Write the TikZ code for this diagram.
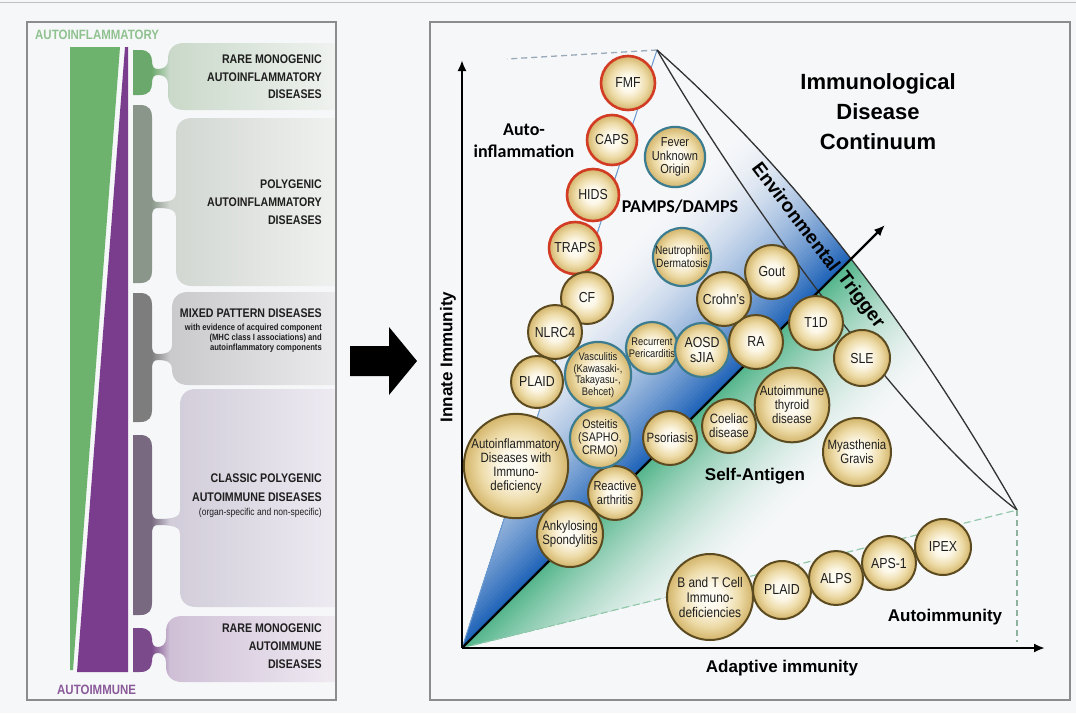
\documentclass[tikz,border=0pt]{standalone}
\usepackage{fontspec}
\setmainfont{Liberation Sans}
\newfontfamily\cond[FakeStretch=0.85]{Liberation Sans}
\newfontfamily\cali{Carlito}
\usetikzlibrary{arrows.meta}

\definecolor{bgc}{HTML}{F6F7F9}
\definecolor{frm}{HTML}{8C8C8C}
\definecolor{blueB}{HTML}{1F63B8}
\definecolor{greenB}{HTML}{55B68C}
\definecolor{rimbrown}{HTML}{5C4B20}
\definecolor{rimred}{HTML}{D23B24}
\definecolor{rimteal}{HTML}{3C7C90}
\definecolor{txtdark}{HTML}{1E1E1E}
\definecolor{hdgreen}{HTML}{8FC28F}
\definecolor{hdpurple}{HTML}{8A5A9A}
\definecolor{wedgegreen}{HTML}{6DB36D}
\definecolor{wedgepurple}{HTML}{7A3C8C}
\definecolor{edgeblue}{HTML}{6A9AD0}
\definecolor{dashgreen}{HTML}{93C9AB}
\definecolor{dashgray}{HTML}{9AA9B8}

% branch fills: dark stem on the left, pale lobe fading to the right
\pgfdeclarehorizontalshading{lobeA}{100bp}{rgb(0bp)=(0.42,0.66,0.42); rgb(29.5bp)=(0.42,0.66,0.42); rgb(34bp)=(0.79,0.85,0.79); rgb(75bp)=(0.94,0.95,0.94); rgb(100bp)=(0.94,0.95,0.94)}
\pgfdeclarehorizontalshading{lobeB}{100bp}{rgb(0bp)=(0.54,0.59,0.54); rgb(29.5bp)=(0.54,0.59,0.54); rgb(34bp)=(0.82,0.84,0.82); rgb(75bp)=(0.94,0.945,0.94); rgb(100bp)=(0.94,0.945,0.94)}
\pgfdeclarehorizontalshading{lobeC}{100bp}{rgb(0bp)=(0.49,0.49,0.49); rgb(29.5bp)=(0.49,0.49,0.49); rgb(34bp)=(0.79,0.79,0.80); rgb(75bp)=(0.92,0.92,0.93); rgb(100bp)=(0.92,0.92,0.93)}
\pgfdeclarehorizontalshading{lobeD}{100bp}{rgb(0bp)=(0.47,0.41,0.50); rgb(29.5bp)=(0.47,0.41,0.50); rgb(34bp)=(0.82,0.80,0.85); rgb(75bp)=(0.93,0.92,0.95); rgb(100bp)=(0.93,0.92,0.95)}
\pgfdeclarehorizontalshading{lobeE}{100bp}{rgb(0bp)=(0.48,0.29,0.54); rgb(29.5bp)=(0.48,0.29,0.54); rgb(34bp)=(0.81,0.75,0.84); rgb(75bp)=(0.94,0.92,0.95); rgb(100bp)=(0.94,0.92,0.95)}
% disease bubbles
\pgfdeclareradialshading{ball}{\pgfpointorigin}{rgb(0bp)=(1,1,0.98); rgb(8bp)=(0.99,0.97,0.91); rgb(17bp)=(0.93,0.86,0.66); rgb(25bp)=(0.83,0.71,0.42); rgb(50bp)=(0.83,0.71,0.42)}

% one branch: #1 bar top, #2 bar bottom, #3 neck, #4 lobe top, #5 lobe bottom, #6 lobe left, #7 shading
\newcommand{\lobe}[7]{%
  \shade[shading=#7] (133,#1) -- (140,#1) .. controls (150,#1) and (152,{#1+6}) .. (152,{#1+12})
    -- (152,{#3-12}) .. controls (152,{#3-5}) and (154,{#3-3}) .. (158,{#3-3})
    .. controls ({#6-4},{#3-3}) and (#6,{#3-6}) .. (#6,{#3-12})
    -- (#6,{#4+16}) .. controls (#6,{#4+6}) and ({#6+6},#4) .. ({#6+16},#4)
    -- (336,#4) -- (336,#5) -- ({#6+16},#5) .. controls ({#6+6},#5) and (#6,{#5-6}) .. (#6,{#5-16})
    -- (#6,{#3+12}) .. controls (#6,{#3+6}) and ({#6-4},{#3+3}) .. (158,{#3+3})
    .. controls (154,{#3+3}) and (152,{#3+5}) .. (152,{#3+12})
    -- (152,{#2-12}) .. controls (152,{#2-6}) and (150,#2) .. (140,#2) -- (133,#2) -- cycle;}

\tikzset{
  dz/.style={circle, shade, shading=ball, draw=rimbrown, line width=2pt, minimum size=#1,
    inner sep=0pt, align=center, text=txtdark},
  rd/.style={draw=rimred, line width=2.6pt},
  tl/.style={draw=rimteal, line width=2.2pt},
  fA/.style={font=\cond\fontsize{14.5}{15}\selectfont},
  fB/.style={font=\cond\fontsize{13.5}{14}\selectfont},
  fC/.style={font=\cond\fontsize{11}{11.5}\selectfont},
  cap/.style={font=\cond\bfseries\fontsize{12.5}{#1}\selectfont, text=txtdark, align=right, anchor=east, inner sep=0pt},
  note/.style={font=\bfseries\fontsize{17}{20}\selectfont, inner sep=0pt},
  bandtext/.style={font=\bfseries\fontsize{19}{21}\selectfont, rotate=-52.7, inner sep=0pt},
  axis/.style={line width=2.4pt, -{Latex[length=11pt,width=9pt]}},
}

\begin{document}
\begin{tikzpicture}[x=1pt, y=-1pt]
\useasboundingbox (0,0) rectangle (1076,713);
\fill[bgc] (0,0) rectangle (1076,713);
\draw[black!25, line width=1pt] (0,2) -- (1076,2);

% ---------------- left panel ----------------
\lobe{50}{95}{72}{43}{110}{168}{lobeA}
\lobe{105}{283}{205}{118}{286}{176}{lobeB}
\lobe{293}{422}{357}{292}{385}{172}{lobeC}
\lobe{435}{615}{522}{389}{607}{180}{lobeD}
\lobe{628}{672}{650}{616}{682}{166}{lobeE}

\fill[wedgegreen] (70,47) -- (120,47) -- (73,670) -- (70,670) -- cycle;
\fill[wedgepurple] (125,47) -- (128,47) -- (128,672) -- (77,672) -- cycle;

\node[font=\cond\bfseries\fontsize{13.5}{15}\selectfont, text=hdgreen, anchor=base west, inner sep=0pt] (hdai) at (35,39) {AUTOINFLAMMATORY};
\node[font=\cond\bfseries\fontsize{13.5}{15}\selectfont, text=hdpurple, anchor=base west, inner sep=0pt] (hdim) at (57,694) {AUTOIMMUNE};

\node[cap=17.5] (g1) at (322,77) {RARE MONOGENIC\\AUTOINFLAMMATORY\\DISEASES};
\node[cap=18.3] (g2) at (322,202) {POLYGENIC\\AUTOINFLAMMATORY\\DISEASES};
\node[cap=15] (g3) at (322,313) {MIXED PATTERN DISEASES};
\node[font=\cond\bfseries\fontsize{9}{10}\selectfont, text=txtdark, align=right, anchor=east, inner sep=0pt] (g3s) at (322,338) {with evidence of acquired component\\(MHC class I associations) and\\autoinflammatory components};
\node[cap=19] (g4) at (322,487.5) {CLASSIC POLYGENIC\\AUTOIMMUNE DISEASES};
\node[font=\cond\fontsize{10}{11}\selectfont, text=txtdark, anchor=east, inner sep=0pt] (g4s) at (322,513) {(organ-specific and non-specific)};
\node[cap=18] (g5) at (322,646) {RARE MONOGENIC\\AUTOIMMUNE\\DISEASES};

\draw[frm, line width=1.3pt] (27,22) rectangle (336,700);

% ---------------- block arrow ----------------
\fill[black] (350,346) -- (389,346) -- (389,327) -- (417,361) -- (389,395) -- (389,376) -- (350,376) -- cycle;

% ---------------- right panel ----------------
\coordinate (O) at (462,648);
\coordinate (apex) at (657,50);
\coordinate (tip) at (1017,510);
\coordinate (tipfoot) at (1017,642);
\coordinate (back) at (507,59);
\coordinate (ytop) at (462,60);
\coordinate (xend) at (1045,648);
\coordinate (diagtip) at (885,225);

% colour wash on both sides of the diagonal
\begin{scope}
  \clip (O) -- (apex) .. controls (804.2,179.6) and (920.3,341) .. (tip) -- cycle;
  \foreach \d in {0,3,...,168}{
    \pgfmathsetmacro\m{100*(1-\d/170)^1.8}
    \fill[blueB!\m!bgc] ({462-0.7071*(300+\d)},{648+0.7071*(300-\d)})
      -- ({462+0.7071*(1000-\d)},{648-0.7071*(1000+\d)})
      -- ({462+0.7071*(1000-900)},{648-0.7071*(1000+900)})
      -- ({462-0.7071*(300+900)},{648+0.7071*(300-900)}) -- cycle;
  }
  \foreach \d in {0,3,...,138}{
    \pgfmathsetmacro\m{100*(1-\d/140)^1.8}
    \fill[greenB!\m!bgc] ({462+0.7071*(-300+\d)},{648+0.7071*(300+\d)})
      -- ({462+0.7071*(1000+\d)},{648+0.7071*(-1000+\d)})
      -- ({462+0.7071*(1000+900)},{648+0.7071*(-1000+900)})
      -- ({462+0.7071*(-300+900)},{648+0.7071*(300+900)}) -- cycle;
  }
\end{scope}

\draw[edgeblue, line width=1pt] (O) -- (apex);
\draw[dashgray, line width=1.3pt, dash pattern=on 6pt off 4pt] (apex) -- (back);
\draw[black!80, line width=1.3pt] (apex) .. controls (804.2,179.6) and (920.3,341) .. (tip);
\draw[black!80, line width=1.3pt] (apex) .. controls (754.5,218.4) and (919.8,437.7) .. (tip);
\draw[dashgreen, line width=1.2pt, dash pattern=on 7pt off 4pt] (O) -- (tip);
\draw[dashgreen!70!gray, line width=1.2pt, dash pattern=on 6pt off 4pt] (tip) -- (tipfoot);

\draw[line width=2.2pt, -{Latex[length=11pt,width=9pt]}] (O) -- (diagtip);
\draw[axis] (O) -- (ytop);
\draw[axis] (O) -- (xend);

\node[bandtext] (envA) at (796.5,216.4) {Environmental};
\node[bandtext] (envB) at (860.6,300.5) {Trigger};

\node[font=\bfseries\fontsize{22}{30}\selectfont, align=center, inner sep=0pt] (title) at (878,112) {Immunological\\Disease\\Continuum};
\node[font=\cali\bfseries\fontsize{18}{22}\selectfont, align=center, inner sep=0pt] (autoinf) at (524,141) {Auto-\\inflammation};
\node[font=\cali\bfseries\fontsize{18}{22}\selectfont, inner sep=0pt] (pamps) at (680,207) {PAMPS/DAMPS};
\node[note] (selfag) at (755,476) {Self-Antigen};
\node[note] (autoimm) at (945,617) {Autoimmunity};
\node[note] (xlab) at (782,668) {Adaptive immunity};
\node[note, rotate=90] (ylab) at (448,357) {Innate Immunity};

% disease bubbles
\node[dz=54pt, rd, fA] (fmf) at (628,83) {FMF};
\node[dz=50pt, rd, fA] (caps) at (612,140) {CAPS};
\node[dz=52pt, rd, fA] (hids) at (593,195) {HIDS};
\node[dz=52pt, rd, fA] (traps) at (575,248) {TRAPS};
\node[dz=52pt, fA] (cf) at (587,298) {CF};
\node[dz=54pt, fA] (nlrc) at (555,332) {NLRC4};
\node[dz=52pt, fA] (plaida) at (537,382) {PLAID};
\node[dz=104pt, fB] (aidi) at (516,466) {Autoinflammatory\\Diseases with\\Immuno-\\deficiency};
\node[dz=66pt, fB] (ank) at (570,534) {Ankylosing\\Spondylitis};
\node[dz=54pt, font=\cond\fontsize{13}{13.5}\selectfont] (react) at (615,493) {Reactive\\arthritis};
\node[dz=62pt, tl, fC] (vasc) at (598,375) {Vasculitis\\(Kawasaki-,\\Takayasu-,\\Behcet)};
\node[dz=60pt, tl, font=\cond\fontsize{12.5}{13}\selectfont] (ost) at (600,438) {Osteitis\\(SAPHO,\\CRMO)};
\node[dz=54pt, fB] (pso) at (670,438) {Psoriasis};
\node[dz=54pt, fB] (coel) at (729,426) {Coeliac\\disease};
\node[dz=52pt, tl, fC] (recp) at (652,348) {Recurrent\\Pericarditis};
\node[dz=54pt, tl, fA] (aosd) at (702,350) {AOSD\\sJIA};
\node[dz=54pt, fA] (ra) at (756,342) {RA};
\node[dz=54pt, fA] (crohn) at (724,299) {Crohn’s};
\node[dz=54pt, fA] (gout) at (772,272) {Gout};
\node[dz=54pt, fA] (tid) at (816,323) {T1D};
\node[dz=56pt, fA] (sle) at (862,358) {SLE};
\node[dz=74pt, fB] (thy) at (792,405) {Autoimmune\\thyroid\\disease};
\node[dz=68pt, fB] (myas) at (857,452) {Myasthenia\\Gravis};
\node[dz=58pt, tl, font=\cond\fontsize{13}{13.5}\selectfont] (fuo) at (675,157) {Fever\\Unknown\\Origin};
\node[dz=58pt, tl, font=\cond\fontsize{12}{13}\selectfont] (neut) at (682,257) {Neutrophilic\\Dermatosis};
\node[dz=86pt, font=\cond\fontsize{14}{15}\selectfont] (btc) at (710,597) {B and T Cell\\Immuno-\\deficiencies};
\node[dz=58pt, fA] (plaidb) at (782,590) {PLAID};
\node[dz=54pt, fA] (alps) at (836,578) {ALPS};
\node[dz=54pt, fA] (aps) at (889,563) {APS-1};
\node[dz=56pt, fA] (ipex) at (943,547) {IPEX};

\draw[frm, line width=1.3pt] (430,22) rectangle (1070,700);
\end{tikzpicture}
\end{document}
